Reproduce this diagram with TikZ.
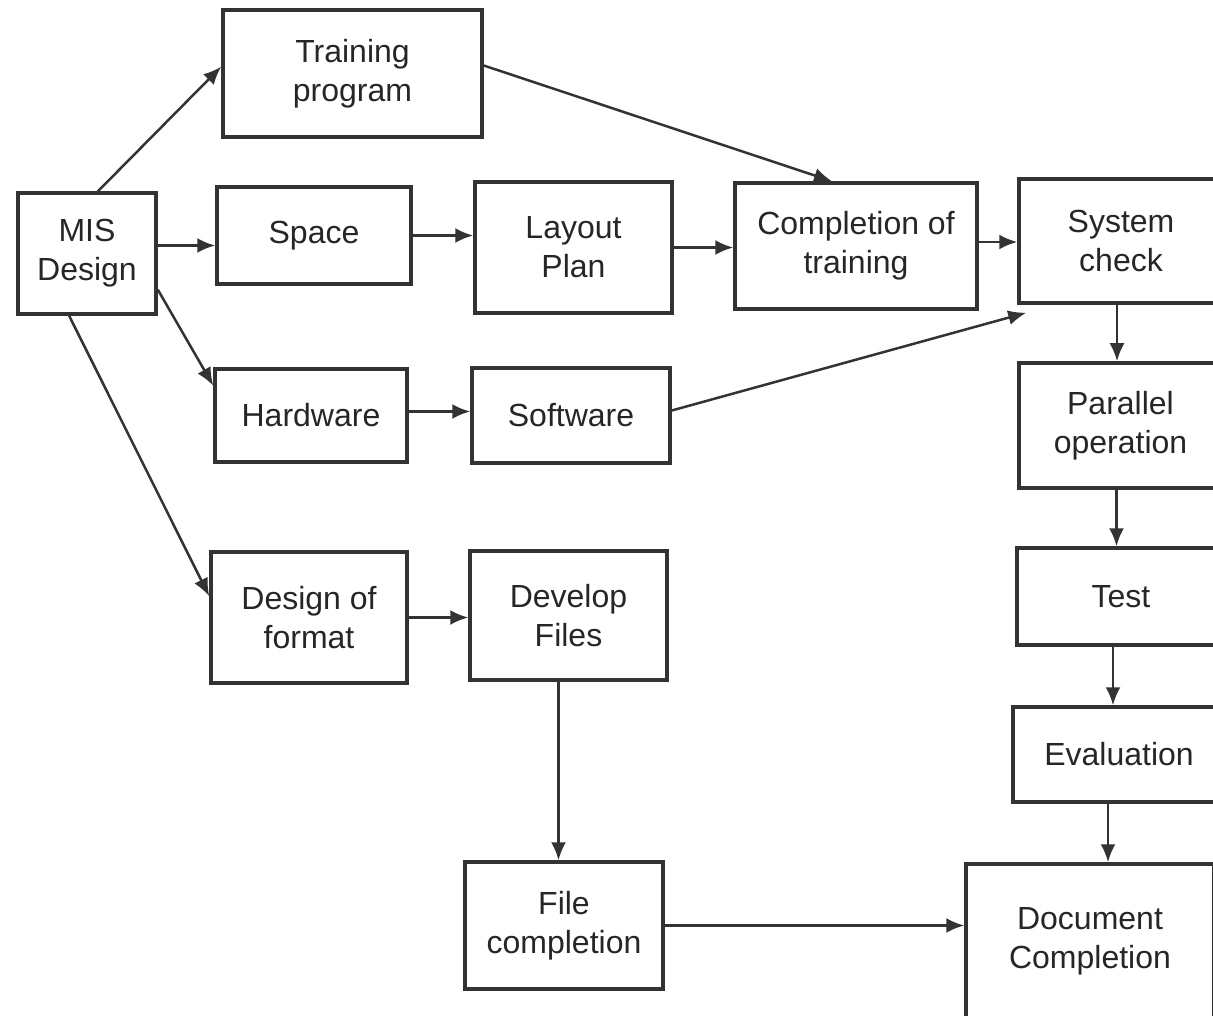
\documentclass[tikz,border=0pt]{standalone}
\usepackage{fontspec}
\setmainfont{Liberation Sans}
\usetikzlibrary{arrows.meta,calc}
\begin{document}
\begin{tikzpicture}[x=1pt,y=-1pt,
  box/.style={draw=black!80, line width=3.5pt, inner sep=0pt, align=center,
    font=\fontsize{32}{39}\selectfont, text=black!85},
  arr/.style={draw=black!80, line width=2.5pt, -{Latex[length=18pt,width=15pt]}}]
\useasboundingbox (0,0) rectangle (1213,1016);
\clip (0,0) rectangle (1213,1016);
% nodes
\node[box, minimum width=138pt, minimum height=121pt] (mis) at (87,253.5) {MIS\\Design};
\node[box, minimum width=259pt, minimum height=127pt] (train) at (352.5,73.5) {Training\\program};
\node[box, minimum width=194pt, minimum height=97pt] (space) at (314,235.5) {Space};
\node[box, minimum width=197pt, minimum height=131pt] (layout) at (573.5,247.5) {Layout\\Plan};
\node[box, minimum width=242pt, minimum height=126pt] (compl) at (856,246) {Completion of\\training};
\node[box, minimum width=204pt, minimum height=124pt] (sys) at (1121,241) {System\\check};
\node[box, minimum width=192pt, minimum height=93pt] (hard) at (311,415.5) {Hardware};
\node[box, minimum width=198pt, minimum height=95pt] (soft) at (571,415.5) {Software};
\node[box, minimum width=203pt, minimum height=125pt] (par) at (1120.5,425.5) {Parallel\\operation};
\node[box, minimum width=196pt, minimum height=131pt] (dof) at (309,617.5) {Design of\\format};
\node[box, minimum width=197pt, minimum height=129pt] (dev) at (568.5,615.5) {Develop\\Files};
\node[box, minimum width=208pt, minimum height=97pt] (test) at (1121,596.5) {Test};
\node[box, minimum width=212pt, minimum height=95pt] (eval) at (1119,754.5) {Evaluation};
\node[box, minimum width=198pt, minimum height=127pt] (filec) at (564,925.5) {File\\completion};
\node[box, minimum width=248pt, minimum height=154pt] (doc) at (1090,941) {Document\\Completion};
% connectors
\draw[arr] (mis.80) -- (train.177);
\draw[arr] ([yshift=8pt]mis.east) -- ([yshift=8pt]mis.east -| space.west);
\draw[arr] (space.east) -- (space.east -| layout.west);
\draw[arr] (layout.east) -- (layout.east -| compl.west);
\draw[arr] ([yshift=4pt]compl.east) -- ([yshift=4pt]compl.east -| sys.west);
\draw[arr] ([yshift=8pt]train.east) -- ([xshift=-24pt]compl.north);
\draw[arr] (mis.-27) -- (hard.163);
\draw[arr] (mis.-106) -- (dof.168);
\draw[arr] ([yshift=4pt]hard.east) -- ([yshift=4pt]hard.east -| soft.west);
\draw[arr] ([yshift=5pt]soft.east) -- ([xshift=9pt,yshift=-8pt]sys.south west);
\draw[arr] (dof.east) -- (dof.east -| dev.west);
\draw[arr] ([xshift=-4pt]sys.south) -- ([xshift=-4pt]sys.south |- par.north);
\draw[arr] ([xshift=-4pt]par.south) -- ([xshift=-4pt]par.south |- test.north);
\draw[arr] ([xshift=-8pt]test.south) -- ([xshift=-8pt]test.south |- eval.north);
\draw[arr] ([xshift=-11pt]eval.south) -- ([xshift=-11pt]eval.south |- doc.north);
\draw[arr] ([xshift=-10pt]dev.south) -- ([xshift=-10pt]dev.south |- filec.north);
\draw[arr] (filec.east) -- (filec.east -| doc.west);
\end{tikzpicture}
\end{document}
